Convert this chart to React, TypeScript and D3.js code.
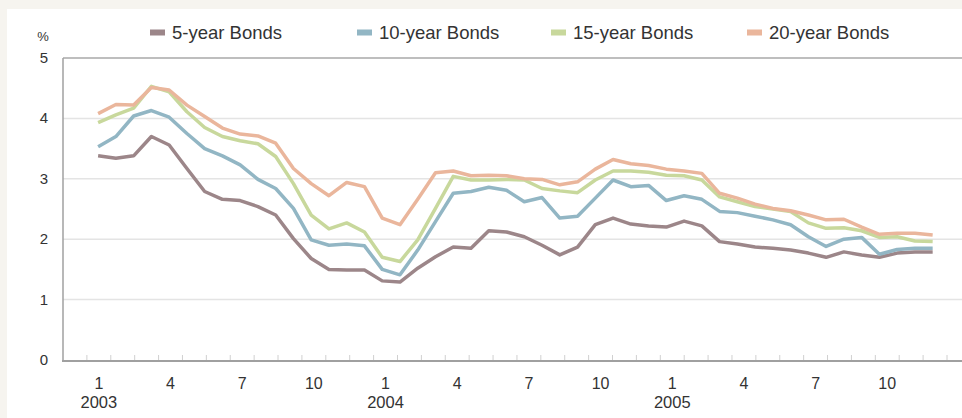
import React from "react";
import * as d3 from "d3";

const seriesNames = ["5-year Bonds", "10-year Bonds", "15-year Bonds", "20-year Bonds"];
const seriesColors = ["#9c8689", "#92b6c4", "#c8d89c", "#eab69c"];

const bonds5 = [3.38, 3.34, 3.38, 3.70, 3.56, 3.17, 2.79, 2.66, 2.64, 2.54, 2.40, 2.01, 1.68, 1.50, 1.49, 1.49, 1.31, 1.29, 1.52, 1.71, 1.87, 1.85, 2.14, 2.12, 2.04, 1.90, 1.74, 1.87, 2.24, 2.35, 2.25, 2.22, 2.20, 2.30, 2.22, 1.96, 1.92, 1.87, 1.85, 1.82, 1.77, 1.70, 1.79, 1.74, 1.70, 1.77, 1.79, 1.79];
const bonds10 = [3.53, 3.70, 4.04, 4.13, 4.02, 3.75, 3.50, 3.38, 3.23, 2.99, 2.84, 2.51, 1.99, 1.90, 1.92, 1.89, 1.50, 1.41, 1.82, 2.29, 2.76, 2.79, 2.86, 2.81, 2.62, 2.69, 2.35, 2.38, 2.68, 2.98, 2.87, 2.89, 2.64, 2.72, 2.66, 2.46, 2.44, 2.38, 2.32, 2.24, 2.04, 1.88, 2.00, 2.03, 1.75, 1.83, 1.85, 1.85];
const bonds15 = [3.93, 4.06, 4.17, 4.53, 4.44, 4.11, 3.85, 3.70, 3.63, 3.58, 3.37, 2.92, 2.40, 2.17, 2.27, 2.12, 1.70, 1.63, 1.99, 2.51, 3.04, 2.98, 2.98, 2.99, 2.98, 2.84, 2.80, 2.77, 2.98, 3.13, 3.13, 3.11, 3.06, 3.05, 2.98, 2.70, 2.62, 2.54, 2.50, 2.46, 2.27, 2.18, 2.19, 2.14, 2.03, 2.04, 1.97, 1.96];
const bonds20 = [4.08, 4.23, 4.22, 4.51, 4.47, 4.22, 4.03, 3.84, 3.74, 3.71, 3.59, 3.17, 2.92, 2.72, 2.94, 2.87, 2.35, 2.24, 2.66, 3.10, 3.13, 3.05, 3.06, 3.05, 3.00, 2.99, 2.90, 2.95, 3.16, 3.32, 3.25, 3.22, 3.16, 3.13, 3.09, 2.76, 2.68, 2.58, 2.51, 2.47, 2.40, 2.32, 2.33, 2.20, 2.08, 2.10, 2.10, 2.07];

const allSeries = [bonds5, bonds10, bonds15, bonds20];

const yTicks = [0, 1, 2, 3, 4, 5];
const monthLabels = ["1", "4", "7", "10", "1", "4", "7", "10", "1", "4", "7", "10"];
const monthLabelIndex = [0, 3, 6, 9, 12, 15, 18, 21, 24, 27, 30, 33];
const yearLabels = ["2003", "", "", "", "2004", "", "", "", "2005", "", "", ""];

const W = 962;
const H = 418;

export default function App() {
  // month boundary scale: unit = one month slot
  const xm = d3.scaleLinear().domain([0, 37]).range([63, 947]);
  const xi = d3.scaleLinear().domain([0, bonds5.length - 1]).range([xm(1.47), xm(36.4)]);
  const y = d3.scaleLinear().domain([0, 5]).range([360, 58]);
  const line = d3
    .line<number>()
    .x((_, i) => xi(i))
    .y((d) => y(d));

  const legendX = [150, 357, 551, 747];
  const font = "'Liberation Sans', Arial, Helvetica, sans-serif";

  return (
    <svg
      width={W}
      height={H}
      style={{ position: "absolute", left: 0, top: 0, display: "block" }}
      fontFamily={font}
    >
      <rect x={0} y={0} width={W} height={H} fill="#f6f4ef" />
      <rect x={7} y={9} width={W - 7} height={H - 9} fill="#ffffff" />

      {/* gridlines */}
      {yTicks
        .filter((t) => t > 0 && t < 5)
        .map((t) => (
          <line key={t} x1={63} x2={W} y1={y(t)} y2={y(t)} stroke="#e4e4e4" strokeWidth={1.5} />
        ))}
      <line x1={63} x2={W} y1={y(5)} y2={y(5)} stroke="#a9a9a9" strokeWidth={1.5} />

      {/* ticks */}
      {d3.range(1, 38).map((j) => (
        <line key={j} x1={xm(j)} x2={xm(j)} y1={y(0) - 5} y2={y(0)} stroke="#d0d0d0" strokeWidth={1} />
      ))}

      {/* axes */}
      <line x1={63} x2={63} y1={y(5)} y2={y(0) + 1} stroke="#a0a0a0" strokeWidth={1.5} />
      <line x1={62} x2={W} y1={y(0) + 1} y2={y(0) + 1} stroke="#a0a0a0" strokeWidth={2} />

      {/* y labels */}
      {yTicks.map((t) => (
        <text key={t} x={48} y={y(t) + 5} textAnchor="end" fontSize={15} fill="#333">
          {t}
        </text>
      ))}
      <text x={43} y={41} textAnchor="middle" fontSize={13} fill="#333">
        %
      </text>

      {/* x labels */}
      {monthLabels.map((m, k) => (
        <g key={k}>
          <text x={xm(1.5 + monthLabelIndex[k])} y={389} textAnchor="middle" fontSize={16} fill="#333">
            {m}
          </text>
          {yearLabels[k] && (
            <text x={xm(1.5 + monthLabelIndex[k])} y={407.5} textAnchor="middle" fontSize={16.5} fill="#333">
              {yearLabels[k]}
            </text>
          )}
        </g>
      ))}

      {/* lines */}
      {allSeries.map((s, k) => (
        <path
          key={k}
          d={line(s) || ""}
          fill="none"
          stroke={seriesColors[k]}
          strokeWidth={3.5}
          strokeLinejoin="round"
          strokeLinecap="butt"
        />
      ))}

      {/* legend */}
      {seriesNames.map((n, k) => (
        <g key={n}>
          <rect x={legendX[k]} y={29.5} width={15} height={6} fill={seriesColors[k]} />
          <text x={legendX[k] + 22} y={39} fontSize={18.5} fill="#333">
            {n}
          </text>
        </g>
      ))}
    </svg>
  );
}
